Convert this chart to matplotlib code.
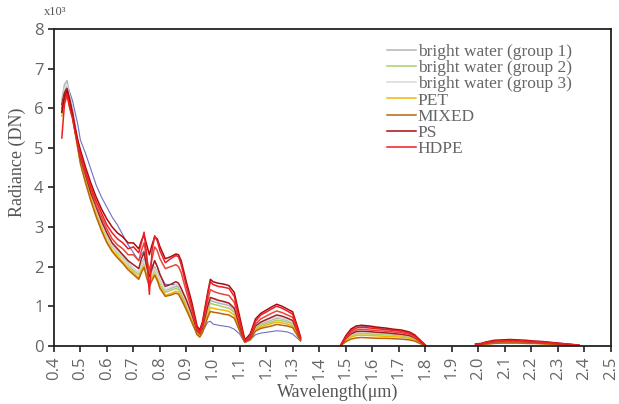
import numpy as np
import matplotlib
matplotlib.use("Agg")
import matplotlib.pyplot as plt

# wavelength grids (um) for the three measured windows
wl_a = [0.43, 0.44, 0.45, 0.46, 0.47, 0.48, 0.49, 0.50,
        0.52, 0.54, 0.56, 0.58, 0.60,
        0.62, 0.64, 0.66, 0.68, 0.70,
        0.72, 0.73, 0.74, 0.75, 0.76, 0.77, 0.78, 0.79, 0.80,
        0.82, 0.84, 0.86, 0.87, 0.88, 0.90,
        0.92, 0.94, 0.95, 0.96, 0.98, 0.99, 1.00,
        1.02, 1.04, 1.06, 1.08, 1.10, 1.12,
        1.14, 1.16, 1.18, 1.20, 1.22, 1.24,
        1.26, 1.28, 1.30, 1.32, 1.33]
wl_b = [1.48, 1.50, 1.52, 1.54, 1.56, 1.59, 1.62, 1.65, 1.68, 1.71, 1.74, 1.76, 1.78, 1.80]
wl_c = [1.99, 2.01, 2.03, 2.06, 2.09, 2.12, 2.15, 2.18, 2.21, 2.24, 2.27, 2.30, 2.33, 2.36, 2.38]

# radiance (x1000 DN), one list per spectrum: window a, then b, then c
ps = [5.9, 6.3, 6.45, 6.2, 5.85, 5.5, 5.2, 4.95,
      4.5, 4.1, 3.75, 3.45, 3.2,
      3.0, 2.85, 2.75, 2.6, 2.6,
      2.45, 2.65, 2.8, 2.55, 2.3, 2.55, 2.75, 2.7, 2.5,
      2.2, 2.25, 2.32, 2.3, 2.15, 1.6,
      1.1, 0.5, 0.4, 0.6, 1.35, 1.68, 1.62,
      1.58, 1.56, 1.52, 1.35, 0.75, 0.15,
      0.3, 0.68, 0.82, 0.9, 0.98, 1.05,
      1.0, 0.93, 0.86, 0.45, 0.22,
      0.0, 0.25, 0.42, 0.5, 0.52, 0.5, 0.47, 0.45, 0.42, 0.4, 0.35, 0.28, 0.15, 0.02,
      0.05, 0.06, 0.1, 0.14, 0.15, 0.16, 0.15, 0.14, 0.12, 0.11, 0.09, 0.07, 0.05, 0.03, 0.01]
hdpe = [5.25, 6.1, 6.35, 6.0, 5.75, 5.4, 5.1, 4.85,
        4.4, 4.0, 3.65, 3.35, 3.05,
        2.85, 2.7, 2.6, 2.45, 2.5,
        2.35, 2.6, 2.87, 2.3, 1.3, 2.4, 2.78, 2.65, 2.4,
        2.1, 2.2, 2.28, 2.25, 2.05, 1.5,
        1.0, 0.45, 0.35, 0.55, 1.3, 1.62, 1.55,
        1.5, 1.48, 1.45, 1.25, 0.65, 0.12,
        0.25, 0.62, 0.78, 0.85, 0.93, 1.0,
        0.95, 0.88, 0.8, 0.4, 0.2,
        0.0, 0.22, 0.38, 0.45, 0.47, 0.45, 0.43, 0.41, 0.39, 0.37, 0.32, 0.25, 0.13, 0.02,
        0.04, 0.05, 0.09, 0.12, 0.13, 0.14, 0.13, 0.12, 0.11, 0.1, 0.08, 0.06, 0.05, 0.03, 0.01]
hdpe_2 = [6.0, 6.3, 6.4, 6.1, 5.9, 5.5, 5.15, 4.8,
          4.35, 3.95, 3.55, 3.25, 2.95,
          2.7, 2.55, 2.45, 2.3, 2.3,
          2.15, 2.4, 2.6, 2.2, 1.9, 2.2, 2.5, 2.4, 2.2,
          1.95, 2.0, 2.05, 2.0, 1.85, 1.35,
          0.9, 0.42, 0.33, 0.5, 1.15, 1.42, 1.38,
          1.33, 1.3, 1.27, 1.1, 0.58, 0.12,
          0.22, 0.55, 0.68, 0.75, 0.82, 0.88,
          0.84, 0.78, 0.72, 0.36, 0.18,
          0.0, 0.2, 0.34, 0.4, 0.42, 0.4, 0.38, 0.37, 0.35, 0.33, 0.29, 0.22, 0.12, 0.02,
          0.03, 0.05, 0.08, 0.11, 0.12, 0.12, 0.12, 0.11, 0.1, 0.09, 0.07, 0.06, 0.04, 0.02, 0.01]
ps_2 = [6.1, 6.4, 6.5, 6.2, 5.9, 5.5, 5.1, 4.75,
        4.3, 3.85, 3.5, 3.15, 2.85,
        2.6, 2.45, 2.3, 2.15, 2.05,
        1.95, 2.2, 2.35, 2.0, 1.75, 1.95, 2.15, 2.0, 1.8,
        1.5, 1.55, 1.62, 1.58, 1.45, 1.15,
        0.8, 0.38, 0.3, 0.45, 1.0, 1.22, 1.2,
        1.15, 1.12, 1.08, 0.95, 0.5, 0.11,
        0.2, 0.5, 0.6, 0.66, 0.72, 0.78,
        0.75, 0.7, 0.64, 0.32, 0.17,
        0.0, 0.18, 0.3, 0.36, 0.37, 0.36, 0.34, 0.33, 0.31, 0.29, 0.26, 0.2, 0.11, 0.01,
        0.03, 0.04, 0.07, 0.1, 0.11, 0.11, 0.11, 0.1, 0.09, 0.08, 0.07, 0.05, 0.04, 0.02, 0.01]
bw1 = [6.2, 6.6, 6.7, 6.3, 6.0, 5.6, 5.2, 4.85,
       4.35, 3.9, 3.5, 3.15, 2.8,
       2.55, 2.4, 2.25, 2.1, 1.95,
       1.85, 2.05, 2.2, 1.9, 1.7, 1.85, 2.0, 1.85, 1.65,
       1.4, 1.45, 1.5, 1.48, 1.35, 1.05,
       0.75, 0.35, 0.28, 0.42, 0.95, 1.15, 1.12,
       1.08, 1.05, 1.02, 0.9, 0.48, 0.11,
       0.18, 0.45, 0.55, 0.6, 0.65, 0.7,
       0.68, 0.64, 0.58, 0.3, 0.16,
       0.0, 0.16, 0.27, 0.32, 0.33, 0.32, 0.31, 0.3, 0.28, 0.27, 0.24, 0.18, 0.1, 0.01,
       0.02, 0.04, 0.06, 0.08, 0.09, 0.1, 0.09, 0.09, 0.08, 0.07, 0.06, 0.05, 0.03, 0.02, 0.01]
bw2 = [6.0, 6.4, 6.5, 6.2, 5.9, 5.5, 5.1, 4.75,
       4.25, 3.8, 3.4, 3.05, 2.75,
       2.5, 2.35, 2.2, 2.05, 1.9,
       1.8, 1.98, 2.1, 1.85, 1.6, 1.78, 1.9, 1.78, 1.58,
       1.35, 1.4, 1.45, 1.42, 1.3, 1.0,
       0.7, 0.33, 0.27, 0.4, 0.9, 1.08, 1.05,
       1.02, 0.98, 0.95, 0.85, 0.45, 0.1,
       0.17, 0.42, 0.52, 0.56, 0.6, 0.65,
       0.63, 0.6, 0.55, 0.28, 0.15,
       0.0, 0.15, 0.25, 0.3, 0.31, 0.3, 0.29, 0.28, 0.27, 0.25, 0.22, 0.17, 0.09, 0.01,
       0.02, 0.03, 0.06, 0.08, 0.09, 0.09, 0.09, 0.08, 0.07, 0.07, 0.06, 0.04, 0.03, 0.02, 0.01]
bw3 = [6.1, 6.5, 6.6, 6.25, 5.95, 5.55, 5.15, 4.8,
       4.3, 3.85, 3.45, 3.1, 2.78,
       2.52, 2.38, 2.22, 2.08, 1.95,
       1.85, 2.02, 2.15, 1.9, 1.68, 1.82, 1.95, 1.82, 1.62,
       1.42, 1.48, 1.55, 1.52, 1.4, 1.1,
       0.75, 0.36, 0.29, 0.44, 1.0, 1.22, 1.18,
       1.14, 1.1, 1.06, 0.92, 0.5, 0.11,
       0.19, 0.48, 0.58, 0.63, 0.68, 0.73,
       0.7, 0.66, 0.6, 0.3, 0.16,
       0.0, 0.17, 0.28, 0.33, 0.35, 0.34, 0.32, 0.31, 0.3, 0.28, 0.25, 0.19, 0.1, 0.01,
       0.02, 0.04, 0.07, 0.09, 0.1, 0.1, 0.1, 0.09, 0.08, 0.07, 0.06, 0.05, 0.03, 0.02, 0.01]
pet = [5.8, 6.2, 6.3, 6.0, 5.8, 5.4, 5.0, 4.65,
       4.15, 3.7, 3.3, 2.95, 2.65,
       2.42, 2.28, 2.12, 1.98, 1.85,
       1.72, 1.9, 2.02, 1.78, 1.55, 1.7, 1.82, 1.7, 1.5,
       1.28, 1.32, 1.38, 1.35, 1.22, 0.95,
       0.65, 0.3, 0.24, 0.36, 0.8, 0.97, 0.95,
       0.92, 0.9, 0.87, 0.78, 0.42, 0.1,
       0.16, 0.4, 0.48, 0.52, 0.56, 0.6,
       0.58, 0.55, 0.5, 0.26, 0.14,
       0.0, 0.13, 0.22, 0.26, 0.27, 0.26, 0.25, 0.24, 0.23, 0.22, 0.19, 0.15, 0.08, 0.01,
       0.02, 0.03, 0.05, 0.07, 0.08, 0.08, 0.08, 0.07, 0.07, 0.06, 0.05, 0.04, 0.03, 0.02, 0.01]
mixed = [5.9, 6.25, 6.35, 6.05, 5.8, 5.4, 5.0, 4.6,
         4.1, 3.65, 3.25, 2.9, 2.6,
         2.38, 2.22, 2.08, 1.92, 1.8,
         1.68, 1.85, 1.98, 1.72, 1.5, 1.65, 1.78, 1.65, 1.45,
         1.25, 1.28, 1.33, 1.3, 1.18, 0.9,
         0.6, 0.28, 0.22, 0.33, 0.72, 0.87, 0.85,
         0.83, 0.8, 0.78, 0.7, 0.38, 0.09,
         0.15, 0.37, 0.44, 0.47, 0.5, 0.54,
         0.52, 0.5, 0.46, 0.24, 0.13,
         0.0, 0.1, 0.17, 0.2, 0.21, 0.2, 0.19, 0.19, 0.18, 0.17, 0.15, 0.12, 0.06, 0.0,
         0.01, 0.03, 0.04, 0.06, 0.07, 0.07, 0.07, 0.06, 0.06, 0.05, 0.04, 0.03, 0.02, 0.01, 0.0]
odd = [6.0, 6.4, 6.6, 6.4, 6.2, 5.9, 5.6, 5.2,
       4.85, 4.45, 4.05, 3.75, 3.5,
       3.25, 3.05, 2.8, 2.55, 2.35,
       2.15, 2.3, 2.4, 2.1, 1.85, 2.0, 2.15, 2.0, 1.8,
       1.55, 1.55, 1.55, 1.5, 1.35, 0.95,
       0.6, 0.3, 0.25, 0.35, 0.6, 0.62, 0.55,
       0.52, 0.5, 0.48, 0.42, 0.3, 0.08,
       0.15, 0.28, 0.32, 0.34, 0.36, 0.38,
       0.37, 0.35, 0.3, 0.18, 0.12,
       0.0, 0.24, 0.43, 0.5, 0.5, 0.48, 0.45, 0.42, 0.4, 0.37, 0.33, 0.26, 0.14, 0.02,
       0.02, 0.04, 0.06, 0.08, 0.09, 0.09, 0.09, 0.08, 0.08, 0.07, 0.06, 0.05, 0.03, 0.02, 0.01]

# draw order: (values, colour, legend label)
spectra = [
    (odd, "#6f6fc4", None),
    (bw1, "#b4b4b4", "bright water (group 1)"),
    (bw2, "#a9cf6a", "bright water (group 2)"),
    (bw3, "#d9d9d9", "bright water (group 3)"),
    (pet, "#f2b705", "PET"),
    (mixed, "#b8650f", "MIXED"),
    (ps_2, "#a32020", None),
    (hdpe_2, "#e8463a", None),
    (ps, "#a80d0d", "PS"),
    (hdpe, "#ee1c25", "HDPE"),
]

fig = plt.figure(figsize=(6.19, 4.04), dpi=100)
ax = fig.add_axes([0.087, 0.144, 0.900, 0.784])

na, nb = len(wl_a), len(wl_b)
wl_all = wl_a + [np.nan] + wl_b + [np.nan] + wl_c
handles = []
for vals, col, lab in spectra:
    y = vals[:na] + [np.nan] + vals[na:na + nb] + [np.nan] + vals[na + nb:]
    lw = 0.8 if col == "#6f6fc4" else 1.1
    ln, = ax.plot(wl_all, y, color=col, lw=lw)
    if lab:
        ln.set_label(lab)
        handles.append(ln)

ax.set_xlim(0.4, 2.5)
ax.set_ylim(0, 8)
xt = [round(0.4 + 0.1 * i, 1) for i in range(22)]
ax.set_xticks(xt)
ax.set_xticklabels([f"{v:.1f}" for v in xt], rotation=90)
ax.set_yticks(range(9))

for s in ax.spines.values():
    s.set_linewidth(1.3)
    s.set_color("#222222")
ax.tick_params(direction="out", length=4, width=1.2, colors="#222222",
               labelcolor="#666666", labelsize=12)
for t in ax.get_xticklabels() + ax.get_yticklabels():
    t.set_family("Open Sans")

serif = "Liberation Serif"
ax.set_xlabel("Wavelength(μm)", family=serif, fontsize=13, color="#555555")
ax.set_ylabel("Radiance (DN)", family=serif, fontsize=13, color="#555555")
ax.xaxis.set_label_coords(0.51, -0.118)
ax.yaxis.set_label_coords(-0.05, 0.58)
fig.text(0.071, 0.962, "x10³", family=serif, fontsize=9, color="#555555")

leg = ax.legend(handles=handles, loc="upper left",
                bbox_to_anchor=(0.585, 0.975), frameon=False,
                prop={"family": serif, "size": 12.5}, labelspacing=0.0,
                handlelength=1.7, handletextpad=0.1, borderaxespad=0)
for t in leg.get_texts():
    t.set_color("#666666")

fig.savefig("out.png", dpi=100)
